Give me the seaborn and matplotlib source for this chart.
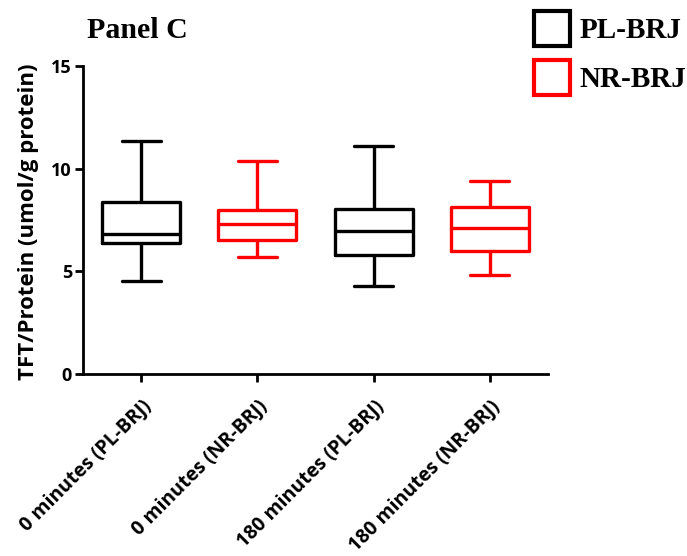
import numpy as np
import pandas as pd
import seaborn as sns
import matplotlib.pyplot as plt
from matplotlib.patches import Patch

# five-number summaries (min, q1, median, q3, max)
groups = ["0 minutes (PL-BRJ)", "0 minutes (NR-BRJ)",
          "180 minutes (PL-BRJ)", "180 minutes (NR-BRJ)"]
g1 = [4.51, 6.38, 6.80, 8.39, 11.36]
g2 = [5.70, 6.54, 7.32, 7.99, 10.39]
g3 = [4.29, 5.80, 6.98, 8.05, 11.10]
g4 = [4.81, 5.99, 7.13, 8.15, 9.42]
colors = ["black", "red", "black", "red"]

rows = []
for name, vals in zip(groups, [g1, g2, g3, g4]):
    for v in vals:
        rows.append({"group": name, "value": v})
df = pd.DataFrame(rows)

sns.set_style("ticks", {"axes.edgecolor": "black", "text.color": "black",
                        "xtick.color": "black", "ytick.color": "black",
                        "axes.labelcolor": "black"})
plt.rcParams["font.family"] = ["Open Sans", "DejaVu Sans"]

fig = plt.figure(figsize=(6.87, 5.56), dpi=100)
ax = fig.add_axes([83 / 687, 1 - 374 / 556, (548 - 83) / 687, (374 - 66) / 556])

sns.boxplot(data=df, x="group", y="value", hue="group", palette=colors,
            fill=False, whis=(0, 100), width=0.67, linewidth=2.4,
            legend=False, ax=ax)

ax.set_ylim(0, 15)
ax.set_xlim(-0.5, 3.5)
ax.set_yticks([0, 5, 10, 15])
ax.set_xlabel("")
ax.set_ylabel("TFT/Protein (umol/g protein)", fontsize=16, fontweight="bold")
ax.yaxis.set_label_coords(-0.095, 0.495)
sns.despine(ax=ax)
for s in ["left", "bottom"]:
    ax.spines[s].set_linewidth(2)
ax.tick_params(width=2, length=6, labelsize=13, pad=2)
ax.tick_params(axis="x", pad=10)
for lab in ax.get_yticklabels():
    lab.set_fontweight("bold")
ax.set_xticks(range(len(groups)))
ax.set_xticklabels(groups, rotation=45, ha="right", rotation_mode="anchor",
                   fontweight="bold", fontsize=14)

fig.text(87 / 687, 1 - 30 / 556, "Panel C", family="Liberation Serif",
         fontweight="bold", fontsize=21.5, va="center")

handles = [Patch(facecolor="none", edgecolor="black", lw=3, label="PL-BRJ"),
           Patch(facecolor="none", edgecolor="red", lw=3, label="NR-BRJ")]
fig.legend(handles=handles, loc="upper left", bbox_to_anchor=(534 / 687, 1 - 11 / 556),
           frameon=False, prop={"family": "Liberation Serif", "weight": "bold", "size": 21},
           borderpad=0, borderaxespad=0,
           handlelength=1.25, handleheight=1.45, handletextpad=0.3, labelspacing=0.5)

fig.savefig("out.png", dpi=100)
